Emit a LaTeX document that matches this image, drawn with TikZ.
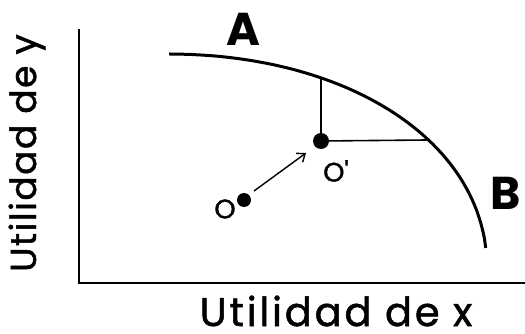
\documentclass[tikz,border=0pt]{standalone}
\usepackage{fontspec}
\setmainfont{Poppins}
\newfontfamily\xlabfont[FakeBold=1.3,LetterSpace=7]{Poppins}
\newfontfamily\ylabfont[FakeBold=1.3,LetterSpace=4]{Poppins}
\newfontfamily\ptfont[FakeBold=1.2]{Poppins}
\usetikzlibrary{arrows.meta}
\begin{document}
\begin{tikzpicture}[x=1pt,y=-1pt,
  axis/.style={line width=2pt},
  frontier/.style={line width=3pt},
  guide/.style={line width=1.6pt},
  dot/.style={circle,fill=black,inner sep=0pt,minimum size=#1},
  ptlabel/.style={font=\ptfont\fontsize{27}{27}\selectfont,inner sep=0pt},
  endlabel/.style={font=\fontsize{46}{46}\selectfont\bfseries,inner sep=0pt},
  axlabel/.style={inner sep=0pt}]
\useasboundingbox (0,0) rectangle (525,334);
% axes
\coordinate (orig) at (79,283);
\coordinate (ytop) at (79,29);
\coordinate (xend) at (525,283);
\draw[axis] (ytop) -- (orig) -- (xend);
% frontier (superellipse)
\draw[frontier] plot[domain=89.4:5.2,samples=120,smooth]
  ({165+322*pow(cos(\x),0.952)},{270-216*pow(sin(\x),0.952)});
\coordinate (pv) at (321,78);
\coordinate (ph) at (427,140);
% points
\node[dot=16pt] (op) at (321,141) {};
\node[dot=14pt] (o) at (244,200) {};
\draw[guide] (op.center) -- (pv);
\draw[guide] (op.center) -- (ph);
\coordinate (as) at (254,191);
\coordinate (ae) at (306,153);
\draw[line width=1.4pt,-{Straight Barb[length=7pt,width=11pt]}] (as) -- (ae);
% labels
\node[ptlabel] (lo) at (225,209) {O};
\node[ptlabel] (lop) at (336,171) {O'};
\node[endlabel] (la) at (243,29) {A};
\node[endlabel] (lb) at (506,193) {B};
\node[axlabel,anchor=base] (lx) at (336,326) {\xlabfont\fontsize{40}{40}\selectfont Utilidad de x};
\node[axlabel,rotate=90,anchor=base] (ly) at (36,153) {\ylabfont\fontsize{36}{36}\selectfont Utilidad de y};
\end{tikzpicture}
\end{document}
